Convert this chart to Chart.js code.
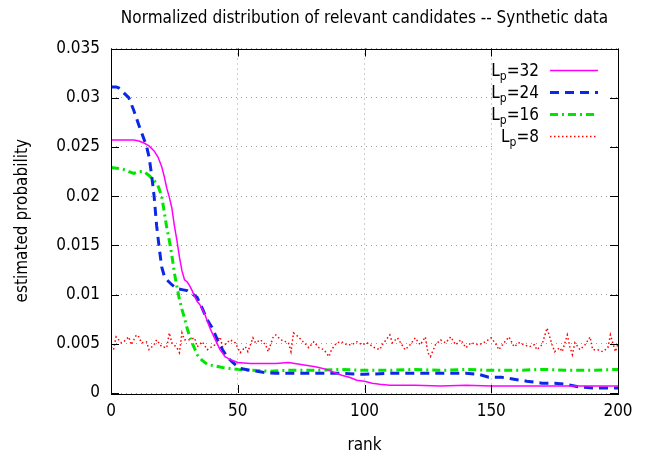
<!DOCTYPE html>
<html>
<head>
<meta charset="utf-8">
<script src="https://cdn.jsdelivr.net/npm/chart.js@4/dist/chart.umd.min.js"></script>
<style>
html, body { margin: 0; padding: 0; background: #fff; }
</style>
</head>
<body>
<canvas id="distribucion" width="646" height="459"></canvas>
<script>
// Datos (rank -> probabilidad estimada)
const rank32 = [0, 3, 6, 9, 11, 13, 15, 17, 18.5, 20, 21, 22, 23, 24, 25, 26, 27, 28, 29, 30, 31, 32, 33, 34, 35, 37, 39, 41, 43, 45, 47, 50, 55, 60, 65, 70, 75, 80, 82, 85, 88, 91, 94, 97, 100, 103, 106, 110, 115, 120, 130, 140, 150, 160, 170, 180, 190, 200];
const lp32 = [0.0257, 0.0257, 0.0257, 0.0257, 0.0256, 0.0254, 0.0251, 0.0246, 0.0240, 0.0230, 0.0220, 0.0208, 0.0199, 0.0188, 0.0170, 0.0155, 0.0138, 0.0124, 0.0115, 0.0113, 0.0109, 0.0104, 0.0098, 0.0093, 0.0090, 0.0080, 0.0066, 0.0055, 0.0044, 0.0037, 0.0034, 0.0031, 0.0030, 0.0030, 0.0030, 0.0031, 0.0029, 0.0027, 0.0026, 0.0024, 0.0021, 0.0018, 0.0016, 0.0013, 0.0012, 0.0010, 0.0009, 0.0008, 0.0008, 0.0008, 0.0007, 0.0008, 0.0007, 0.0007, 0.0007, 0.0007, 0.0007, 0.0007];

const rank24 = [0, 2, 3, 5, 7, 9, 11, 12, 14, 15, 16, 17, 18, 19, 20, 21, 22, 24, 26, 28, 30, 32, 34, 36, 38, 40, 42, 44, 46, 48, 51, 55, 60, 65, 70, 80, 90, 100, 110, 120, 130, 140, 145, 149, 154, 159, 164, 170, 175, 179, 185, 191, 196, 200];
const lp24 = [0.0311, 0.0311, 0.0310, 0.0305, 0.0300, 0.0287, 0.0272, 0.0265, 0.0251, 0.0240, 0.0222, 0.0200, 0.0170, 0.0148, 0.0128, 0.0119, 0.0115, 0.0110, 0.0106, 0.0105, 0.0104, 0.0101, 0.0097, 0.0086, 0.0074, 0.0066, 0.0054, 0.0044, 0.0036, 0.0031, 0.0025, 0.0023, 0.0021, 0.0020, 0.0020, 0.0020, 0.0020, 0.0019, 0.0020, 0.0020, 0.0020, 0.0020, 0.0019, 0.0016, 0.0016, 0.0014, 0.0012, 0.0010, 0.0010, 0.0009, 0.0006, 0.0005, 0.0005, 0.0005];

const rank16 = [0, 3, 5, 7, 9, 11, 13, 15, 17, 18.5, 20, 21, 22, 23, 24, 25, 26, 27, 28, 29, 30, 31, 32, 33, 34, 36, 38, 40, 44, 50, 56, 63, 69, 80, 90, 100, 110, 120, 130, 140, 150, 160, 170, 180, 190, 200];
const lp16 = [0.0229, 0.0228, 0.0227, 0.0225, 0.0223, 0.0225, 0.0225, 0.0221, 0.0216, 0.0211, 0.0200, 0.0184, 0.0168, 0.0155, 0.0140, 0.0122, 0.0108, 0.0095, 0.0085, 0.0076, 0.0066, 0.0058, 0.0051, 0.0045, 0.0039, 0.0033, 0.0029, 0.0028, 0.0026, 0.0024, 0.0023, 0.0022, 0.0023, 0.0023, 0.0024, 0.0023, 0.0023, 0.0024, 0.0023, 0.0024, 0.0023, 0.0023, 0.0024, 0.0023, 0.0023, 0.0024];

const rank8 = [0, 1, 2, 4, 5, 7, 8, 10, 11, 12, 14, 15, 17, 18, 20, 22, 23, 24, 26, 27, 28, 29, 31, 33, 34, 36, 38, 41, 43, 44, 47, 49, 50, 51, 53, 54, 56, 57, 59, 61, 62, 64, 65, 67, 70, 71, 72, 74, 75, 77, 78, 80, 82, 84, 86, 87, 89, 91, 93, 95, 97, 99, 101, 104, 106, 107, 110, 111, 113, 116, 118, 120, 122, 124, 125, 126, 128, 130, 132, 134, 136, 138, 140, 142, 145, 147, 150, 152, 153, 155, 157, 159, 161, 163, 165, 167, 168, 170, 172, 174, 175, 177, 178, 180, 181, 182, 183, 185, 187, 189, 190, 192, 194, 196, 197, 199, 200];
const lp8 = [0.0047, 0.0044, 0.0057, 0.0051, 0.0052, 0.0057, 0.0049, 0.0059, 0.0057, 0.0051, 0.0052, 0.0044, 0.0049, 0.0054, 0.0047, 0.0046, 0.0061, 0.0051, 0.0046, 0.0041, 0.0061, 0.0054, 0.0054, 0.0056, 0.0047, 0.0052, 0.0044, 0.0049, 0.0057, 0.0047, 0.0054, 0.0051, 0.0046, 0.0041, 0.0047, 0.0042, 0.0056, 0.0051, 0.0054, 0.0049, 0.0042, 0.0057, 0.0059, 0.0054, 0.0051, 0.0042, 0.0061, 0.0057, 0.0054, 0.0049, 0.0046, 0.0052, 0.0046, 0.0044, 0.0037, 0.0044, 0.0051, 0.0052, 0.0049, 0.0049, 0.0052, 0.0049, 0.0051, 0.0046, 0.0044, 0.0049, 0.0059, 0.0051, 0.0056, 0.0044, 0.0049, 0.0056, 0.0049, 0.0057, 0.0041, 0.0037, 0.0049, 0.0054, 0.0051, 0.0057, 0.0049, 0.0054, 0.0046, 0.0051, 0.0049, 0.0051, 0.0056, 0.0049, 0.0044, 0.0051, 0.0057, 0.0047, 0.0051, 0.0049, 0.0047, 0.0049, 0.0044, 0.0049, 0.0066, 0.0049, 0.0042, 0.0046, 0.0042, 0.0059, 0.0047, 0.0039, 0.0051, 0.0044, 0.0049, 0.0057, 0.0044, 0.0044, 0.0042, 0.0046, 0.0059, 0.0042, 0.0050];

const xTicks = [0, 50, 100, 150, 200];
const series = ['32', '24', '16', '8'];

const FONT = "'DejaVu Sans Condensed', 'DejaVu Sans', sans-serif";
const SIZE = 17;
const pares = (xs, ys) => xs.map((x, i) => ({ x: x, y: ys[i] }));

// Marco, marcas hacia dentro y leyenda al estilo gnuplot
const marcoGnuplot = {
    id: 'marcoGnuplot',
    afterDatasetsDraw(chart) {
        const { ctx, chartArea: a, scales } = chart;
        ctx.save();
        ctx.strokeStyle = '#000';
        ctx.lineWidth = 1;
        ctx.beginPath();
        scales.x.ticks.forEach(t => {
            const px = Math.round(scales.x.getPixelForValue(t.value)) + 0.5;
            ctx.moveTo(px, a.bottom); ctx.lineTo(px, a.bottom - 8);
            ctx.moveTo(px, a.top); ctx.lineTo(px, a.top + 8);
        });
        scales.y.ticks.forEach(t => {
            const py = Math.round(scales.y.getPixelForValue(t.value)) + 0.5;
            ctx.moveTo(a.left, py); ctx.lineTo(a.left + 8, py);
            ctx.moveTo(a.right, py); ctx.lineTo(a.right - 8, py);
        });
        ctx.stroke();
        ctx.strokeRect(Math.round(a.left) + 0.5, Math.round(a.top) + 0.5,
            Math.round(a.right - a.left), Math.round(a.bottom - a.top));

        // leyenda
        ctx.fillStyle = '#fff';
        ctx.fillRect(493, 58, 116, 90);
        const filas = [70, 92, 114, 136];
        chart.data.datasets.forEach((ds, i) => {
            const y = filas[i];
            ctx.fillStyle = '#000';
            ctx.textBaseline = 'alphabetic';
            ctx.textAlign = 'left';
            const big = SIZE + 'px ' + FONT, small = '12px ' + FONT;
            ctx.font = big;
            const wL = ctx.measureText('L').width;
            const wRest = ctx.measureText('=' + series[i]).width;
            ctx.font = small;
            const wp = ctx.measureText('p').width;
            let x = 539 - (wL + wp + wRest);
            ctx.font = big;
            ctx.fillText('L', x, y + 6);
            x += wL;
            ctx.font = small;
            ctx.fillText('p', x, y + 9.5);
            x += wp;
            ctx.font = big;
            ctx.fillText('=' + series[i], x, y + 6);

            ctx.strokeStyle = ds.borderColor;
            ctx.lineWidth = ds.borderWidth;
            ctx.setLineDash(ds.borderDash || []);
            ctx.beginPath();
            ctx.moveTo(550, y + 0.5);
            ctx.lineTo(598, y + 0.5);
            ctx.stroke();
            ctx.setLineDash([]);
        });
        ctx.restore();
    }
};

const ctx = document.getElementById('distribucion');
new Chart(ctx, {
    type: 'line',
    data: {
        datasets: [
            { label: 'Lp=32', data: pares(rank32, lp32), borderColor: '#ff00ff', borderWidth: 1.5 },
            { label: 'Lp=24', data: pares(rank24, lp24), borderColor: '#0a28e6', borderWidth: 3, borderDash: [9, 6] },
            { label: 'Lp=16', data: pares(rank16, lp16), borderColor: '#00e600', borderWidth: 3, borderDash: [8, 4, 2, 4] },
            { label: 'Lp=8', data: pares(rank8, lp8), borderColor: '#ff0000', borderWidth: 1.5, borderDash: [1.5, 2.5] }
        ]
    },
    options: {
        responsive: false,
        animation: false,
        layout: { padding: { left: 0, right: 28, top: 0, bottom: 0 } },
        elements: { point: { radius: 0 }, line: { tension: 0, fill: false } },
        scales: {
            x: {
                type: 'linear', min: 0, max: 200,
                afterBuildTicks: s => { s.ticks = xTicks.map(v => ({ value: v })); },
                afterFit: s => { s.height = 66; },
                ticks: { color: '#000', font: { family: FONT, size: SIZE }, padding: 8, maxRotation: 0 },
                grid: { color: '#9a9a9a', drawTicks: false },
                border: { display: false, dash: [1, 4] },
                title: { display: true, text: 'rank', color: '#000', font: { family: FONT, size: SIZE }, padding: { top: 3, bottom: 3 } }
            },
            y: {
                min: 0, max: 0.035,
                afterFit: s => { s.width = 111; },
                ticks: { stepSize: 0.005, color: '#000', font: { family: FONT, size: SIZE }, padding: 11,
                    callback: v => String(+v.toFixed(3)) },
                grid: { color: '#9a9a9a', drawTicks: false },
                border: { display: false, dash: [1, 4] },
                title: { display: true, text: 'estimated probability', color: '#000', font: { family: FONT, size: SIZE }, padding: { top: 12, bottom: 0 } }
            }
        },
        plugins: {
            legend: { display: false },
            tooltip: { enabled: false },
            title: {
                display: true, fullSize: false,
                text: 'Normalized distribution of relevant candidates -- Synthetic data',
                color: '#000', font: { family: FONT, size: SIZE, weight: 'normal' },
                padding: { top: 8, bottom: 20.1 }
            }
        }
    },
    plugins: [marcoGnuplot]
});
</script>
</body>
</html>
